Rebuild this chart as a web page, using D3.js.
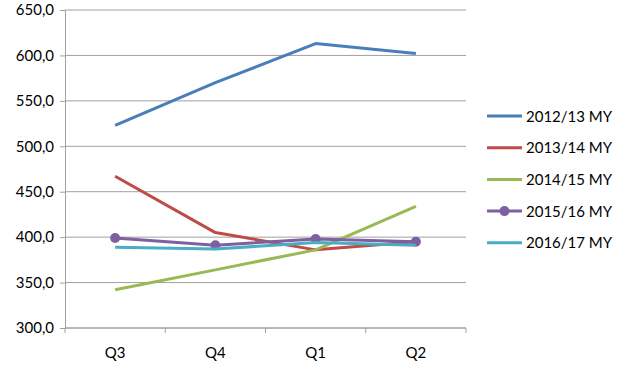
<!DOCTYPE html>
<html>
<head>
<meta charset="utf-8">
<script src="https://cdn.jsdelivr.net/npm/d3@7"></script>
<style>
  body { margin: 0; background: #fff; }
  text { font-family: Lato, "Open Sans", sans-serif; fill: #000; }
</style>
</head>
<body>
<svg width="626" height="370"></svg>
<script>
// quarters on the x axis
var quarters = ['Q3', 'Q4', 'Q1', 'Q2'];

// one array per marketing year
var my1213 = [523, 570, 613, 602];
var my1314 = [467, 405, 386, 395];
var my1415 = [342, 364, 386, 434];
var my1516 = [399, 391, 398, 395];
var my1617 = [389, 387, 394, 391];

var seriesNames = ['2012/13 MY', '2013/14 MY', '2014/15 MY', '2015/16 MY', '2016/17 MY'];
var seriesColors = ['#4A7EBB', '#BE4B48', '#98B954', '#7D60A0', '#4BACC6'];
var yTicks = [300, 350, 400, 450, 500, 550, 600, 650];

var series = [my1213, my1314, my1415, my1516, my1617].map(function(vals, i) {
    return { name: seriesNames[i], color: seriesColors[i], values: vals, markers: i === 3 };
});

var svg = d3.select('svg');
var padding = { t: 10, l: 65, r: 160, b: 42 };
var chartWidth = 626 - padding.l - padding.r;
var chartHeight = 370 - padding.t - padding.b;

var chartG = svg.append('g')
    .attr('transform', 'translate(' + padding.l + ',' + padding.t + ')');

var xScale = d3.scaleBand().domain(quarters).range([0, chartWidth]);
var yScale = d3.scaleLinear().domain([300, 650]).range([chartHeight, 0]);

// gridlines
chartG.selectAll('.grid').data(yTicks).enter().append('line')
    .attr('x1', 0).attr('x2', chartWidth)
    .attr('y1', d => yScale(d)).attr('y2', d => yScale(d))
    .attr('stroke', '#a0a0a0').attr('stroke-width', 1);

// y axis
var yAxis = chartG.append('g')
    .call(d3.axisLeft(yScale).tickValues(yTicks).tickSize(5).tickPadding(6)
        .tickFormat(d => d3.format('.1f')(d).replace('.', ',')));
yAxis.selectAll('line, path').attr('stroke', '#a0a0a0');
yAxis.selectAll('text').style('font-size', '15px').attr('fill', '#000');

// x axis, ticks between categories
var xAxis = chartG.append('g').attr('transform', 'translate(0,' + chartHeight + ')');
xAxis.append('line').attr('x1', 0).attr('x2', chartWidth).attr('stroke', '#a0a0a0');
var bounds = [0].concat(quarters.map(q => xScale(q) + xScale.bandwidth()));
xAxis.selectAll('.tk').data(bounds).enter().append('line')
    .attr('x1', d => d).attr('x2', d => d).attr('y1', 0).attr('y2', 5)
    .attr('stroke', '#a0a0a0');
xAxis.selectAll('.lbl').data(quarters).enter().append('text')
    .attr('x', d => xScale(d) + xScale.bandwidth() / 2)
    .attr('y', 30)
    .attr('text-anchor', 'middle')
    .style('font-size', '15px')
    .text(d => d);

var line = d3.line()
    .x((d, i) => xScale(quarters[i]) + xScale.bandwidth() / 2)
    .y(d => yScale(d));

series.forEach(function(s) {
    chartG.append('path')
        .attr('d', line(s.values))
        .attr('fill', 'none')
        .attr('stroke', s.color)
        .attr('stroke-width', 3)
        .attr('stroke-linejoin', 'round');
    if (s.markers) {
        chartG.selectAll('.m').data(s.values).enter().append('circle')
            .attr('cx', (d, i) => xScale(quarters[i]) + xScale.bandwidth() / 2)
            .attr('cy', d => yScale(d))
            .attr('r', 5)
            .attr('fill', s.color);
    }
});

// legend
var legend = svg.append('g').attr('transform', 'translate(487,116)');
series.forEach(function(s, i) {
    var g = legend.append('g').attr('transform', 'translate(0,' + (i * 31.7) + ')');
    g.append('line').attr('x1', 0).attr('x2', 35)
        .attr('stroke', s.color).attr('stroke-width', 3);
    if (s.markers) g.append('circle').attr('cx', 17.5).attr('r', 5).attr('fill', s.color);
    g.append('text').attr('x', 39).attr('y', 5.5)
        .style('font-size', '15px').text(s.name);
});
</script>
</body>
</html>
